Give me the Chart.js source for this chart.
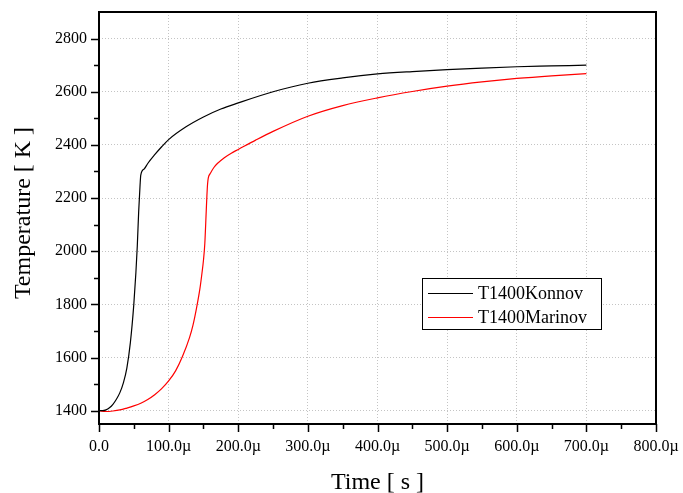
<!DOCTYPE html>
<html>
<head>
<meta charset="utf-8">
<title>T1400 temperature history</title>
<script src="https://cdn.jsdelivr.net/npm/chart.js@4.4.1/dist/chart.umd.min.js"></script>
<style>
    html, body { margin: 0; padding: 0; background: #fff; }
    #chart { display: block; }
</style>
</head>
<body>
<canvas id="chart" width="683" height="493"></canvas>
<script>
// Temperature histories, time in microseconds
const konnovTime = [0, 5, 10, 15, 20, 25, 30, 35, 40, 45, 50, 53, 55, 57, 59, 60, 65, 70, 80, 90, 100,
    125, 150, 175, 200, 250, 300, 350, 400, 450, 500, 550, 600, 650, 700];
const konnovTemp = [1400, 1400, 1403, 1411, 1424, 1443, 1468, 1505, 1560, 1655, 1800, 1920, 2020, 2150, 2250, 2286, 2310, 2330, 2363, 2393, 2420,
    2468, 2505, 2535, 2558, 2600, 2632, 2652, 2667, 2676, 2683, 2689, 2694, 2697, 2700];

const marinovTime = [0, 10, 20, 30, 40, 50, 60, 70, 80, 90, 100, 110, 120, 130, 135, 140, 145, 148, 150, 152, 154, 155, 156, 157,
    160, 165, 170, 180, 190, 200, 225, 250, 300, 350, 400, 450, 500, 550, 600, 650, 700];
const marinovTemp = [1400, 1397, 1399, 1403, 1410, 1418, 1428, 1442, 1460, 1483, 1512, 1550, 1605, 1675, 1722, 1785, 1860, 1920, 1965, 2030, 2150, 2210, 2255, 2276,
    2293, 2315, 2330, 2352, 2369, 2383, 2418, 2451, 2508, 2548, 2577, 2601, 2621, 2637, 2650, 2660, 2668];

const seriesLabels = ['T1400Konnov', 'T1400Marinov'];
const seriesColors = ['#000000', '#ff0000'];

// Axis ticks
const xTicks = [0, 100, 200, 300, 400, 500, 600, 700, 800];
const yTicks = [1400, 1600, 1800, 2000, 2200, 2400, 2600, 2800];
const xTitle = 'Time [ s ]';
const yTitle = 'Temperature [ K ]';

const serif = '"Liberation Serif", "Times New Roman", serif';

function toPoints(times, temps) {
    return times.map((t, i) => ({ x: t, y: temps[i] }));
}

// midpoints between major ticks get the short marks
function minorOf(ticks) {
    const out = [];
    for (let i = 0; i < ticks.length - 1; i++) out.push((ticks[i] + ticks[i + 1]) / 2);
    return out;
}

// keep the plot box exactly where the layout puts it
function fixBox(s) {
    s.paddingTop = 0;
    s.paddingBottom = 0;
    s.paddingLeft = 0;
    s.paddingRight = 0;
}

// Frame, outward tick marks, axis titles and the boxed legend
const framePlugin = {
    id: 'frame',
    afterDraw(chart) {
        const { ctx, chartArea: a, scales } = chart;
        const xs = scales.x, ys = scales.y;
        ctx.save();

        // tick marks
        ctx.strokeStyle = '#000';
        ctx.lineWidth = 1.5;
        ctx.beginPath();
        xTicks.forEach(v => {
            const px = Math.round(xs.getPixelForValue(v)) + 0.5;
            ctx.moveTo(px, a.bottom); ctx.lineTo(px, a.bottom + 8);
        });
        minorOf(xTicks).forEach(v => {
            const px = Math.round(xs.getPixelForValue(v)) + 0.5;
            ctx.moveTo(px, a.bottom); ctx.lineTo(px, a.bottom + 5);
        });
        yTicks.forEach(v => {
            const py = Math.round(ys.getPixelForValue(v)) + 0.5;
            ctx.moveTo(a.left, py); ctx.lineTo(a.left - 8, py);
        });
        minorOf(yTicks).forEach(v => {
            const py = Math.round(ys.getPixelForValue(v)) + 0.5;
            ctx.moveTo(a.left, py); ctx.lineTo(a.left - 5, py);
        });
        ctx.stroke();

        // box around the plot
        ctx.lineWidth = 2;
        ctx.strokeRect(a.left, a.top, a.right - a.left, a.bottom - a.top);

        // axis titles
        ctx.fillStyle = '#000';
        ctx.font = '24px ' + serif;
        ctx.textAlign = 'center';
        ctx.textBaseline = 'alphabetic';
        ctx.fillText(xTitle, (a.left + a.right) / 2, 489);
        ctx.save();
        ctx.translate(30, 213);
        ctx.rotate(-Math.PI / 2);
        ctx.fillText(yTitle, 0, 0);
        ctx.restore();

        // legend
        const lx = 422, ly = 278, lw = 179, lh = 51;
        ctx.fillStyle = '#fff';
        ctx.fillRect(lx, ly, lw, lh);
        ctx.lineWidth = 1;
        ctx.strokeStyle = '#000';
        ctx.strokeRect(lx + 0.5, ly + 0.5, lw, lh);
        ctx.font = '18px ' + serif;
        ctx.textAlign = 'left';
        ctx.textBaseline = 'middle';
        seriesLabels.forEach((label, i) => {
            const cy = ly + 15 + i * 24;
            ctx.strokeStyle = seriesColors[i];
            ctx.beginPath();
            ctx.moveTo(lx + 6, cy + 0.5);
            ctx.lineTo(lx + 51, cy + 0.5);
            ctx.stroke();
            ctx.fillStyle = '#000';
            ctx.fillText(label, lx + 56, cy + 1);
        });
        ctx.restore();
    }
};

const gridStyle = {
    color: '#c4c4c4',
    lineWidth: 1,
    drawTicks: false
};

new Chart(document.getElementById('chart'), {
    type: 'line',
    data: {
        datasets: [
            {
                label: seriesLabels[0],
                data: toPoints(konnovTime, konnovTemp),
                borderColor: seriesColors[0],
                borderWidth: 1.2,
                pointRadius: 0,
                cubicInterpolationMode: 'monotone',
                fill: false
            },
            {
                label: seriesLabels[1],
                data: toPoints(marinovTime, marinovTemp),
                borderColor: seriesColors[1],
                borderWidth: 1.2,
                pointRadius: 0,
                cubicInterpolationMode: 'monotone',
                fill: false
            }
        ]
    },
    options: {
        responsive: false,
        devicePixelRatio: 1,
        animation: false,
        layout: { padding: { top: 12, right: 27, left: 0, bottom: 0 } },
        plugins: {
            legend: { display: false },
            tooltip: { enabled: false }
        },
        scales: {
            x: {
                type: 'linear',
                min: 0,
                max: 800,
                grid: gridStyle,
                border: { display: false, dash: [1, 2] },
                afterBuildTicks: s => { s.ticks = xTicks.map(v => ({ value: v })); },
                afterFit: s => { s.height = 69; fixBox(s); },
                ticks: {
                    padding: 13,
                    color: '#000',
                    maxRotation: 0,
                    font: { family: serif, size: 16 },
                    callback: v => v === 0 ? '0.0' : v.toFixed(1) + 'µ'
                }
            },
            y: {
                type: 'linear',
                min: 1350,
                max: 2900,
                grid: gridStyle,
                border: { display: false, dash: [1, 2] },
                afterBuildTicks: s => { s.ticks = yTicks.map(v => ({ value: v })); },
                afterFit: s => { s.width = 99; fixBox(s); },
                ticks: {
                    padding: 12,
                    color: '#000',
                    font: { family: serif, size: 16 },
                    callback: v => String(v)
                }
            }
        }
    },
    plugins: [framePlugin]
});
</script>
</body>
</html>
